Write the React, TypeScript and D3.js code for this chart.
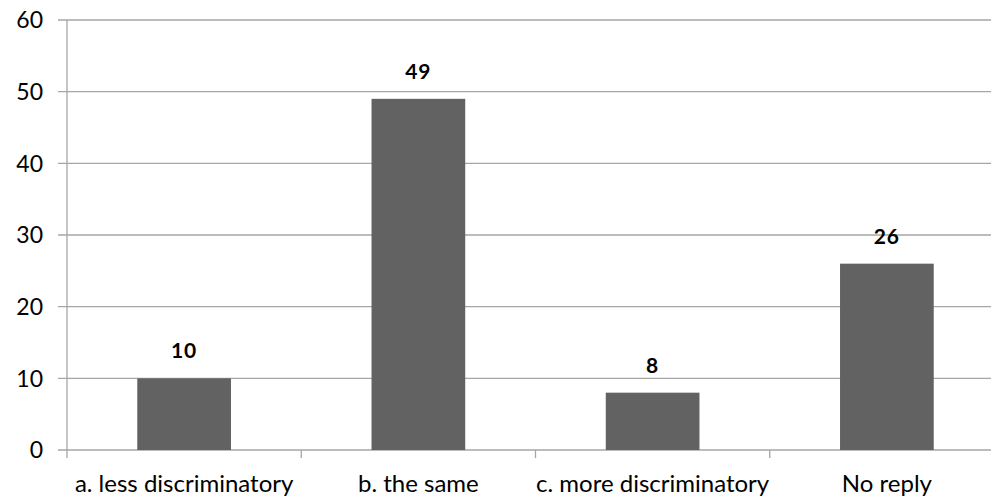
import React from "react";
import * as d3 from "d3";

const categories = ["a. less discriminatory", "b. the same", "c. more discriminatory", "No reply"];
const values = [10, 49, 8, 26];
const yTicks = [0, 10, 20, 30, 40, 50, 60];

export default function App() {
  const W = 991, H = 500;
  const left = 67, right = 1004, top = 20, bottom = 450;
  const x = d3.scaleBand<string>().domain(categories).range([left, right]).paddingInner(0.6).paddingOuter(0.3);
  const xb = d3.scaleBand<string>().domain(categories).range([left, right]);
  const y = d3.scaleLinear().domain([0, 60]).range([bottom, top]);
  const font = "Lato, 'Open Sans', sans-serif";
  return (
    <svg width={W} height={H} style={{ position: "absolute", left: 0, top: 0, background: "#fff" }}>
      {yTicks.map(t => (
        <g key={t}>
          <line x1={58} x2={right} y1={y(t)} y2={y(t)} stroke="#a6a6a6" strokeWidth={1.3} />
          <text x={43} y={y(t)} dy="0.36em" textAnchor="end" fontSize={23} fontFamily={font} fill="#000">{t}</text>
        </g>
      ))}
      <line x1={left} x2={left} y1={top} y2={bottom + 8} stroke="#a6a6a6" strokeWidth={1.3} />
      {categories.map((c, i) => (
        <g key={c}>
          <line x1={(xb(c) as number) + xb.bandwidth()} x2={(xb(c) as number) + xb.bandwidth()} y1={bottom} y2={bottom + 8} stroke="#a6a6a6" strokeWidth={1.3} />
          <rect x={x(c)} y={y(values[i])} width={x.bandwidth()} height={bottom - y(values[i])} fill="#626262" />
          <text x={(x(c) as number) + x.bandwidth() / 2} y={y(values[i]) - 20} textAnchor="middle" fontSize={21} fontWeight="bold" letterSpacing={1} fontFamily={font} fill="#000">{values[i]}</text>
          <text x={(xb(c) as number) + xb.bandwidth() / 2} y={492} textAnchor="middle" fontSize={24} fontFamily={font} fill="#000">{c}</text>
        </g>
      ))}
    </svg>
  );
}
